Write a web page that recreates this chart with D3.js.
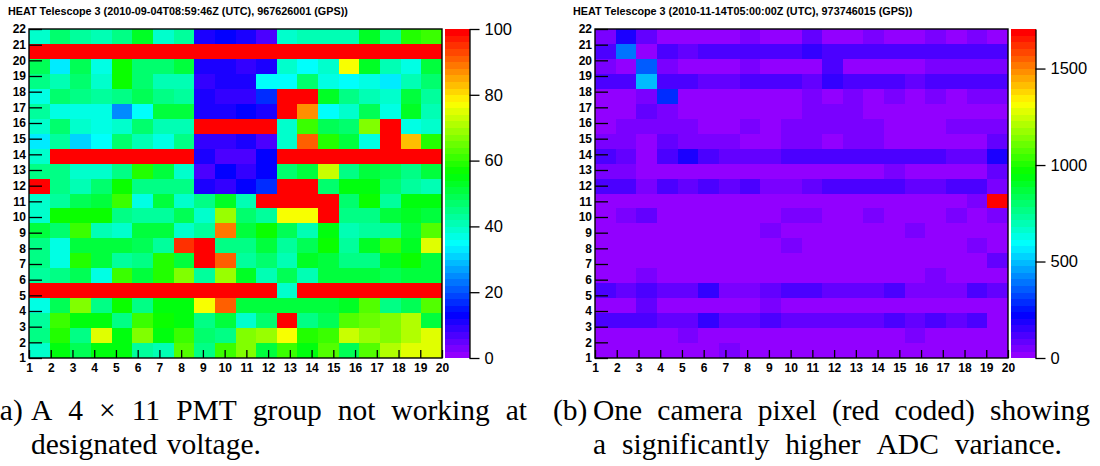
<!DOCTYPE html>
<html>
<head>
<meta charset="utf-8">
<script src="https://cdn.jsdelivr.net/npm/d3@7/dist/d3.min.js"></script>
<style>
  html, body { margin: 0; padding: 0; background: #fff; }
  svg { display: block; }
</style>
</head>
<body>
<svg id="fig" width="1100" height="466"></svg>
<script>
// ---------------------------------------------------------------
// Camera pixel maps of HEAT Telescope 3: 20 columns x 22 rows.
// Each row array below lists columns 1..20; rows run from 22 (top) to 1 (bottom).
// ---------------------------------------------------------------
const columnLabels = d3.range(1, 21);   // 1..20
const rowLabels = d3.range(1, 23);      // 1..22

// (a) pixel response, 2010-09-04 (z range 0..100)
const pmtResponseRows = [
  [38,47,42,40,45,53,39,43,10,12,10,6,38,40,41,41,53,43,59,61],          // 22
  [100,100,100,100,100,100,100,100,100,100,100,100,100,100,100,100,100,100,100,100], // 21
  [48,33,48,37,57,46,46,51,10,10,8,10,39,35,39,77,53,40,36,51],           // 20
  [45,40,46,38,57,46,41,41,8,10,10,35,35,46,37,34,37,32,40,46],           // 19
  [36,46,44,42,45,49,45,43,10,8,9,16,100,100,53,44,40,39,50,43],          // 18
  [43,37,37,37,24,35,51,51,10,10,12,10,100,86,35,38,48,37,52,40],         // 17
  [38,46,39,36,38,47,40,41,100,100,100,100,38,60,48,46,66,100,36,38],     // 16
  [33,43,31,35,46,41,37,44,8,9,10,7,39,91,59,50,36,100,82,59],            // 15
  [38,100,100,100,100,100,100,100,10,7,7,12,100,100,100,100,100,100,100,100], // 14
  [45,45,38,38,45,59,51,39,7,12,8,12,46,50,72,44,51,48,44,50],            // 13
  [100,44,40,47,57,44,44,44,10,9,12,17,100,100,46,54,54,47,43,41],        // 12
  [38,43,49,51,61,37,51,38,44,52,40,100,100,100,100,47,56,42,55,54],      // 11
  [39,57,57,57,45,43,43,49,39,69,47,42,77,77,100,45,45,50,52,51],         // 10
  [51,47,60,40,38,51,51,38,42,89,50,56,48,40,54,40,43,43,51,62],          // 9
  [45,37,51,50,51,49,43,94,100,45,44,51,42,48,56,42,53,60,52,74],         // 8
  [44,37,59,51,42,44,58,50,100,90,42,47,40,52,50,45,45,53,56,50],         // 7
  [43,44,49,37,61,51,59,66,42,68,53,40,48,40,51,51,51,48,50,50],          // 6
  [100,100,100,100,100,100,100,100,100,100,100,100,39,100,100,100,100,100,100,100], // 5
  [36,49,66,45,56,44,55,54,77,91,51,51,50,51,50,52,63,44,48,62],          // 4
  [42,60,55,55,44,60,56,54,45,51,39,47,100,45,49,62,64,67,70,51],         // 3
  [45,58,45,74,55,67,55,60,47,45,67,69,76,58,60,73,68,67,70,74],          // 2
  [38,55,49,55,54,43,41,62,44,60,66,50,60,55,62,48,63,71,75,74]           // 1
];

// (b) ADC variance, 2010-11-14 (z range 0..1705)
const adcVarianceRows = [
  [50,200,85,15,15,15,15,50,15,15,85,15,15,50,15,15,50,15,60,15],                   // 22
  [120,400,30,135,85,135,135,135,135,135,170,135,135,135,135,135,135,135,135,135],  // 21
  [50,15,360,60,15,15,15,50,15,30,30,135,15,15,15,15,50,50,50,50],                  // 20
  [135,135,500,135,135,85,85,120,120,120,100,160,135,135,135,85,135,135,120,120],   // 19
  [15,15,50,290,15,15,15,30,30,30,60,15,50,15,50,15,50,15,50,50],                   // 18
  [15,15,85,50,15,15,15,15,15,15,50,50,50,15,15,15,15,15,15,15],                    // 17
  [15,50,50,50,50,15,15,50,15,50,50,50,50,50,15,15,15,50,50,50],                    // 16
  [50,50,15,100,60,60,60,15,30,50,50,15,50,50,15,15,15,15,15,100],                  // 15
  [135,85,15,135,200,135,85,85,85,120,135,135,135,135,135,135,135,100,100,200],     // 14
  [50,50,15,15,15,15,15,15,15,15,15,15,15,15,50,15,15,15,15,85],                    // 13
  [120,120,60,120,85,120,85,120,60,60,85,120,120,120,120,85,85,120,120,60],         // 12
  [15,15,15,15,15,15,15,15,15,15,15,15,15,15,15,15,15,15,50,1705],                  // 11
  [15,50,85,15,15,15,15,15,15,50,50,15,15,50,15,15,15,50,15,50],                    // 10
  [15,15,15,15,15,15,15,15,50,15,15,15,15,15,15,50,15,15,15,15],                    // 9
  [15,15,15,15,15,15,15,15,15,50,15,15,15,15,15,15,15,15,50,15],                    // 8
  [15,15,15,15,15,15,15,15,15,15,15,15,15,15,15,15,15,15,15,85],                    // 7
  [15,15,60,15,15,15,15,15,15,15,15,15,15,15,15,15,50,15,15,15],                    // 6
  [120,85,120,85,85,160,60,60,85,120,135,85,85,100,120,60,60,60,120,85],            // 5
  [15,15,85,15,15,15,15,15,50,15,15,15,15,15,15,15,15,15,15,15],                    // 4
  [135,135,135,85,85,150,85,85,135,85,100,100,100,100,135,85,135,85,135,15],        // 3
  [15,15,15,15,50,15,15,15,15,15,15,15,15,15,15,50,15,15,15,15],                    // 2
  [15,15,15,15,15,15,50,15,15,15,15,15,15,15,15,15,15,15,15,15]                     // 1
];

const titleA = "HEAT Telescope 3 (2010-09-04T08:59:46Z (UTC), 967626001 (GPS))";
const titleB = "HEAT Telescope 3 (2010-11-14T05:00:00Z (UTC), 973746015 (GPS))";
const zTicksA = [0, 20, 40, 60, 80, 100];
const zTicksB = [0, 500, 1000, 1500];
const zRangeA = [0, 100];
const zRangeB = [0, 1705];

const captionA = { label: "(a)", line1: ["A", "4", "\u00d7", "11", "PMT", "group", "not", "working", "at"], line2: ["designated", "voltage."] };
const captionB = { label: "(b)", line1: ["One", "camera", "pixel", "(red", "coded)", "showing"], line2: ["a", "significantly", "higher", "ADC", "variance."] };

// ---------------------------------------------------------------
// Palette: 50 contour levels, hue 280 -> 0 at full saturation (violet -> red)
// ---------------------------------------------------------------
const NLEVELS = 50;
const paletteColors = d3.range(NLEVELS).map(i =>
  d3.hsl(280 - (i + 1) * (280 / NLEVELS), 1, 0.5).formatHex());

function levelColor(z, zr) {
  let i = Math.floor(0.0001 + (z - zr[0]) * NLEVELS / (zr[1] - zr[0]));
  i = Math.max(0, Math.min(NLEVELS - 1, i));
  return paletteColors[i];
}

const svg = d3.select("#fig");
const SANS = "'Liberation Sans', Arial, Helvetica, sans-serif";
const SERIF = "'Liberation Serif', 'Times New Roman', serif";

function drawPanel(opts) {
  const { left, top, width, height, rowsData, zr, zTicks, title, titleX } = opts;
  const g = svg.append("g");

  const x = d3.scaleLinear().domain([1, 20]).range([left, left + width]);
  const y = d3.scaleLinear().domain([1, 22]).range([top + height, top]);

  // 20 x-bins across 1..20, 22 y-bins across 1..22
  const nx = columnLabels.length, ny = rowLabels.length;
  const xEdge = i => 1 + i * (19 / nx);
  const yEdge = j => 1 + j * (21 / ny);

  const cells = [];
  rowsData.forEach((row, r) => {
    const j = ny - 1 - r;           // bin index from bottom
    row.forEach((v, i) => cells.push({ i, j, v }));
  });

  g.append("g").selectAll("rect").data(cells).join("rect")
    .attr("x", d => x(xEdge(d.i)))
    .attr("y", d => y(yEdge(d.j + 1)))
    .attr("width", d => x(xEdge(d.i + 1)) - x(xEdge(d.i)) + 0.4)
    .attr("height", d => y(yEdge(d.j)) - y(yEdge(d.j + 1)) + 0.4)
    .attr("fill", d => levelColor(d.v, zr))
    .attr("shape-rendering", "crispEdges");

  // axes: ticks point into the frame
  const xAxis = d3.axisBottom(x).tickValues(columnLabels).tickFormat(d3.format("d"))
    .tickSizeInner(-8).tickSizeOuter(0).tickPadding(5);
  const yAxis = d3.axisLeft(y).tickValues(rowLabels).tickFormat(d3.format("d"))
    .tickSizeInner(-13).tickSizeOuter(0).tickPadding(3);

  const gx = g.append("g").attr("transform", `translate(0,${top + height})`).call(xAxis);
  const gy = g.append("g").attr("transform", `translate(${left},0)`).call(yAxis);
  [gx, gy].forEach(a => {
    a.select(".domain").remove();
    a.selectAll(".tick line").attr("stroke", "#000").attr("stroke-width", 1.3);
    a.selectAll(".tick text").attr("fill", "#000")
      .style("font-family", SANS).style("font-weight", "bold").style("font-size", "12px");
  });

  // frame
  g.append("rect")
    .attr("x", left).attr("y", top).attr("width", width).attr("height", height)
    .attr("fill", "none").attr("stroke", "#000").attr("stroke-width", 1.4);

  // colour bar
  const cbLeft = left + width + 3, cbWidth = 24.5;
  const z = d3.scaleLinear().domain(zr).range([top + height, top]);
  const dz = (zr[1] - zr[0]) / NLEVELS;
  g.append("g").selectAll("rect").data(d3.range(NLEVELS)).join("rect")
    .attr("x", cbLeft)
    .attr("y", i => z(zr[0] + (i + 1) * dz))
    .attr("width", cbWidth)
    .attr("height", i => z(zr[0] + i * dz) - z(zr[0] + (i + 1) * dz) + 0.3)
    .attr("fill", i => paletteColors[i])
    .attr("shape-rendering", "crispEdges");

  const zAxis = d3.axisRight(z).tickValues(zTicks).tickFormat(d3.format("d"))
    .tickSizeInner(10).tickSizeOuter(0).tickPadding(5);
  const gz = g.append("g").attr("transform", `translate(${cbLeft + cbWidth},0)`).call(zAxis);
  gz.select(".domain").attr("stroke", "#000").attr("stroke-width", 1.3);
  gz.selectAll(".tick line").attr("stroke", "#000").attr("stroke-width", 1.3);
  gz.selectAll(".tick text").attr("fill", "#000")
    .style("font-family", SANS).style("font-size", "16.5px");

  // title
  g.append("text")
    .attr("x", titleX).attr("y", 15)
    .style("font-family", SANS).style("font-weight", "bold").style("font-size", "10.8px")
    .text(title);
}

drawPanel({ left: 29, top: 29, width: 413, height: 329, rowsData: pmtResponseRows,
            zr: zRangeA, zTicks: zTicksA, title: titleA, titleX: 8 });
drawPanel({ left: 595, top: 29, width: 413, height: 329, rowsData: adcVarianceRows,
            zr: zRangeB, zTicks: zTicksB, title: titleB, titleX: 573 });

// ---------------------------------------------------------------
// Sub-captions (justified lines, hanging indent after the label)
// ---------------------------------------------------------------
function placeWords(g, words, x0, x1, yBase) {
  const nodes = words.map(w => g.append("text").attr("y", yBase).text(w));
  const widths = nodes.map(n => n.node().getComputedTextLength());
  const total = d3.sum(widths);
  const gap = x1 !== null && words.length > 1 ? (x1 - x0 - total) / (words.length - 1) : 9.5;
  let cx = x0;
  nodes.forEach((n, k) => { n.attr("x", cx); cx += widths[k] + gap; });
}

function drawCaption(cap, labelX, textX, line1End, line2End, base1, base2) {
  const g = svg.append("g")
    .style("font-family", SERIF).style("font-size", "29.5px").attr("fill", "#000");
  g.append("text").attr("x", labelX).attr("y", base1).text(cap.label);
  placeWords(g, cap.line1, textX, line1End, base1);
  placeWords(g, cap.line2, textX, line2End, base2);
}

drawCaption(captionA, -10, 31, 527, null, 420, 454);
drawCaption(captionB, 553, 593, 1090, 1062, 420, 454);
</script>
</body>
</html>
